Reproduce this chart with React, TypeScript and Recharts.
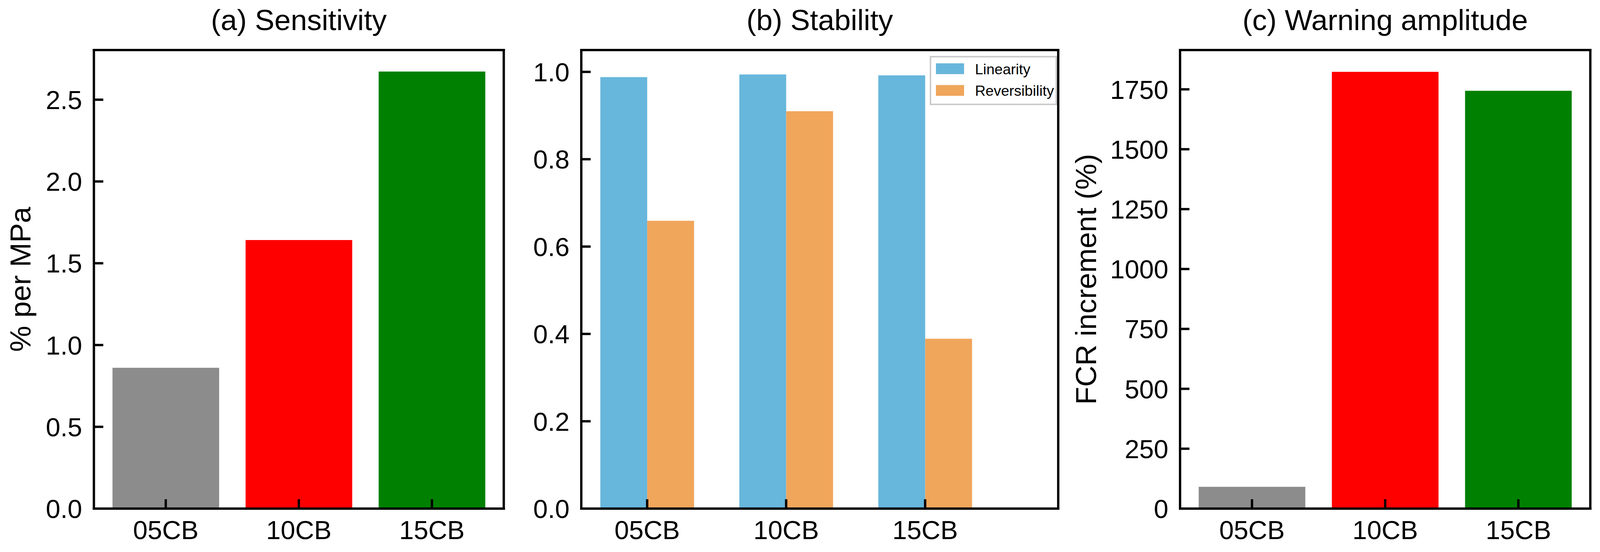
import React from 'react';
import { BarChart, Bar, XAxis, YAxis, Cell, Legend, ReferenceLine } from 'recharts';

const FONT = '"Liberation Sans", Arial, Helvetica, sans-serif';

// values
const categories = ['05CB', '10CB', '15CB'];
const categoryColors = ['#8c8c8c', '#ff0000', '#008000'];
const sensitivity = [0.861, 1.642, 2.672];
const linearity = [0.988, 0.994, 0.992];
const reversibility = [0.659, 0.91, 0.389];
const warningAmplitude = [91, 1823, 1744];

const categoryTicks = [0, 1, 2];
const sensitivityTicks = [0, 0.5, 1, 1.5, 2, 2.5];
const stabilityTicks = [0, 0.2, 0.4, 0.6, 0.8, 1];
const warningTicks = [0, 250, 500, 750, 1000, 1250, 1500, 1750];

// axis limits (matplotlib style: 5% head room, bars padded on x)
const singleX = [-0.54, 2.54];
const pairX = [-0.474, 2.9575];
const sensitivityY = [0, 2.8035];
const stabilityY = [0, 1.05];
const warningY = [0, 1914];

const sensitivityData = categories.map((name, i) => ({ idx: i, name, value: sensitivity[i] }));
const stabilityData = categories.map((name, i) => ({
  idx: i,
  name,
  lin: linearity[i],
  rev: reversibility[i],
}));
const warningData = categories.map((name, i) => ({ idx: i, name, value: warningAmplitude[i] }));

// the captured picture is only ~4096px wide, so squeeze the horizontal layout to fit
const K = 4096 / 4294;
const sx = (v: number) => v * K;

const frameLine = { stroke: '#000', strokeWidth: 6, strokeLinecap: 'square' as const };

function XTick(props: any) {
  const { x, y, payload } = props;
  return (
    <g>
      <line x1={x} y1={y} x2={x} y2={y - 24} stroke="#000" strokeWidth={6} />
      <text x={x} y={y + 78} textAnchor="middle" fontSize={67} fontFamily={FONT} fill="#000">
        {categories[payload.value]}
      </text>
    </g>
  );
}

function makeYTick(format: (v: number) => string) {
  return function YTick(props: any) {
    const { x, y, payload } = props;
    return (
      <g>
        <line x1={x} y1={y} x2={x + 24} y2={y} stroke="#000" strokeWidth={6} />
        <text x={x - 30} y={y + 24} textAnchor="end" fontSize={67} fontFamily={FONT} fill="#000">
          {format(payload.value)}
        </text>
      </g>
    );
  };
}

const oneDecimal = makeYTick((v) => v.toFixed(1));
const integer = makeYTick((v) => String(Math.round(v)));

function PanelTitle(props: any) {
  const vb = props.viewBox || { x: 0, y: 128, width: 0, height: 0 };
  return (
    <text
      x={vb.x + vb.width / 2}
      y={vb.y - 51}
      textAnchor="middle"
      fontSize={75}
      fontFamily={FONT}
      fill="#000"
    >
      {props.text}
    </text>
  );
}

function YTitle(props: any) {
  const vb = props.viewBox || { x: 0, y: 128, width: 0, height: 1173 };
  const x = vb.x + vb.width - props.gap;
  const y = vb.y + vb.height / 2;
  return (
    <text
      x={x}
      y={y}
      transform={`rotate(-90 ${x} ${y})`}
      textAnchor="middle"
      fontSize={75}
      fontFamily={FONT}
      fill="#000"
    >
      {props.text}
    </text>
  );
}

function StabilityLegend(props: any) {
  const items = props.payload || [];
  return (
    <svg width={326} height={126} style={{ display: 'block' }}>
      <rect x={2} y={2} width={322} height={122} fill="#fff" fillOpacity={0.8} stroke="#cccccc" strokeWidth={4} />
      {items.map((entry: any, i: number) => (
        <g key={entry.value}>
          <rect x={16} y={19 + i * 55.5} width={72} height={27.6} fill={entry.color} />
          <text x={116} y={46.5 + i * 55.5} fontSize={37.5} fontFamily={FONT} fill="#000">
            {entry.value}
          </text>
        </g>
      ))}
    </svg>
  );
}

function frame(xDomain: number[], yDomain: number[], title: string) {
  return [
    <ReferenceLine
      key="top"
      y={yDomain[1]}
      ifOverflow="visible"
      {...frameLine}
      label={<PanelTitle text={title} />}
    />,
    <ReferenceLine key="right" x={xDomain[1]} ifOverflow="visible" {...frameLine} />,
  ];
}

function bottomAxis(xDomain: number[]) {
  return (
    <XAxis
      dataKey="idx"
      type="number"
      domain={xDomain}
      ticks={categoryTicks}
      interval={0}
      height={100}
      tickSize={0}
      tickMargin={0}
      tickLine={false}
      tick={<XTick />}
      axisLine={frameLine}
    />
  );
}

const H = 1412;
const TOP = 128;
const BOTTOM = 11; // below the 100px x axis band

// plot areas measured on the reference (page px), squeezed by K
const aLeft = sx(252), aRight = sx(1352);
const bLeft = sx(1560), bRight = sx(2840);
const cLeft = sx(3167), cRight = sx(4268);

// chart boxes may overlap; the svgs are transparent
const aBox = { left: 0, width: 1340 };
const bBox = { left: 1340, width: 1400 };
const cBox = { left: 2690, width: 1406 };

export default function App() {
  return (
    <div style={{ position: 'absolute', left: 0, top: 0, width: 4294, height: H, background: '#fff' }}>
      {/* (a) Sensitivity */}
      <div style={{ position: 'absolute', left: aBox.left, top: 0 }}>
        <BarChart
          width={aBox.width}
          height={H}
          data={sensitivityData}
          margin={{
            top: TOP,
            bottom: BOTTOM,
            left: aLeft - aBox.left - 200,
            right: aBox.left + aBox.width - aRight,
          }}
        >
          <Bar dataKey="value" barSize={273} isAnimationActive={false}>
            {categoryColors.map((c, i) => (
              <Cell key={i} fill={c} />
            ))}
          </Bar>
          {bottomAxis(singleX)}
          <YAxis
            type="number"
            domain={sensitivityY}
            ticks={sensitivityTicks}
            interval={0}
            width={200}
            tickSize={0}
            tickMargin={0}
            tickLine={false}
            tick={oneDecimal}
            axisLine={frameLine}
            label={<YTitle text="% per MPa" gap={162} />}
          />
          {frame(singleX, sensitivityY, '(a) Sensitivity')}
        </BarChart>
      </div>

      {/* (b) Stability */}
      <div style={{ position: 'absolute', left: bBox.left, top: 0 }}>
        <BarChart
          width={bBox.width}
          height={H}
          data={stabilityData}
          barGap={0}
          margin={{
            top: TOP,
            bottom: BOTTOM,
            left: bLeft - bBox.left - 140,
            right: bBox.left + bBox.width - bRight,
          }}
        >
          <Bar dataKey="lin" name="Linearity" fill="#67b6dc" barSize={120} isAnimationActive={false} />
          <Bar dataKey="rev" name="Reversibility" fill="#f0a65b" barSize={120} isAnimationActive={false} />
          {bottomAxis(pairX)}
          <YAxis
            type="number"
            domain={stabilityY}
            ticks={stabilityTicks}
            interval={0}
            width={140}
            tickSize={0}
            tickMargin={0}
            tickLine={false}
            tick={oneDecimal}
            axisLine={frameLine}
          />
          {frame(pairX, stabilityY, '(b) Stability')}
          <Legend
            layout="vertical"
            align="center"
            verticalAlign="middle"
            content={<StabilityLegend />}
            wrapperStyle={{ left: sx(2495) - bBox.left, top: 143, width: 326, height: 126 }}
          />
        </BarChart>
      </div>

      {/* (c) Warning amplitude */}
      <div style={{ position: 'absolute', left: cBox.left, top: 0 }}>
        <BarChart
          width={cBox.width}
          height={H}
          data={warningData}
          margin={{
            top: TOP,
            bottom: BOTTOM,
            left: cLeft - cBox.left - 250,
            right: cBox.left + cBox.width - cRight,
          }}
        >
          <Bar dataKey="value" barSize={273} isAnimationActive={false}>
            {categoryColors.map((c, i) => (
              <Cell key={i} fill={c} />
            ))}
          </Bar>
          {bottomAxis(singleX)}
          <YAxis
            type="number"
            domain={warningY}
            ticks={warningTicks}
            interval={0}
            width={250}
            tickSize={0}
            tickMargin={0}
            tickLine={false}
            tick={integer}
            axisLine={frameLine}
            label={<YTitle text="FCR increment (%)" gap={215} />}
          />
          {frame(singleX, warningY, '(c) Warning amplitude')}
        </BarChart>
      </div>
    </div>
  );
}
